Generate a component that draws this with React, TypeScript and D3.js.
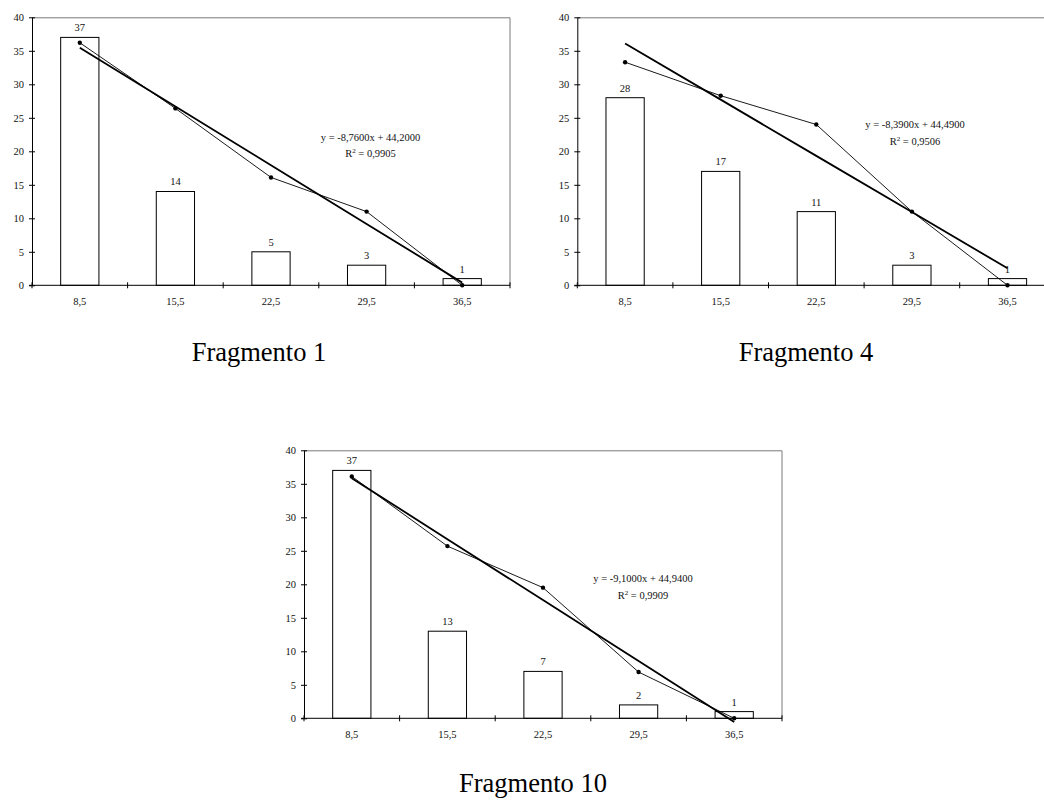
import React, { useRef, useEffect } from 'react';
import * as d3 from 'd3';

const categories = ['8,5', '15,5', '22,5', '29,5', '36,5'];
const yTicks = [0, 5, 10, 15, 20, 25, 30, 35, 40];

// Fragmento 1
const frag1Counts = [37, 14, 5, 3, 1];
const frag1Line = [36.2, 26.4, 16.1, 11.0, 0];
const frag1Fit = { slope: -8.76, intercept: 44.2, eq: 'y = -8,7600x + 44,2000', r2: '0,9905' };

// Fragmento 4
const frag4Counts = [28, 17, 11, 3, 1];
const frag4Line = [33.3, 28.3, 24.0, 11.0, 0];
const frag4Fit = { slope: -8.39, intercept: 44.49, eq: 'y = -8,3900x + 44,4900', r2: '0,9506' };

// Fragmento 10
const frag10Counts = [37, 13, 7, 2, 1];
const frag10Line = [36.1, 25.7, 19.5, 6.9, 0];
const frag10Fit = { slope: -9.1, intercept: 44.94, eq: 'y = -9,1000x + 44,9400', r2: '0,9909' };

const W = 1044;
const H = 800;
const PLOT_W = 478;
const PLOT_H = 268;
const FONT = "'Liberation Serif', 'Times New Roman', serif";

const charts = [
    { x0: 32, y0: 17.3, counts: frag1Counts, line: frag1Line, fit: frag1Fit, eqX: 338.5, eqY: 123.4, title: 'Fragmento 1', titleX: 259, titleY: 361 },
    { x0: 577.3, y0: 17.3, counts: frag4Counts, line: frag4Line, fit: frag4Fit, eqX: 337.7, eqY: 111, title: 'Fragmento 4', titleX: 806, titleY: 361 },
    { x0: 304, y0: 450.3, counts: frag10Counts, line: frag10Line, fit: frag10Fit, eqX: 339, eqY: 132, title: 'Fragmento 10', titleX: 533, titleY: 792 },
];

const drawChart = (svg, cfg) => {
    const g = svg.append('g').attr('transform', `translate(${cfg.x0},${cfg.y0})`);

    const x = d3.scaleBand().domain(categories).range([0, PLOT_W]);
    const y = d3.scaleLinear().domain([0, 40]).range([PLOT_H, 0]);
    const cx = (i) => x(categories[i]) + x.bandwidth() / 2;

    // top + right frame
    g.append('path')
        .attr('d', `M0,0.5H${PLOT_W}V${PLOT_H}`)
        .attr('fill', 'none')
        .attr('stroke', '#7a7a7a')
        .attr('stroke-width', 1);

    // bars
    const bw = x.bandwidth() * 0.4;
    g.selectAll('.bar')
        .data(cfg.counts)
        .enter()
        .append('rect')
        .attr('x', (d, i) => cx(i) - bw / 2)
        .attr('y', d => y(d))
        .attr('width', bw)
        .attr('height', d => PLOT_H - y(d))
        .attr('fill', '#fff')
        .attr('stroke', '#000')
        .attr('stroke-width', 1);

    g.selectAll('.bar-label')
        .data(cfg.counts)
        .enter()
        .append('text')
        .attr('x', (d, i) => cx(i))
        .attr('y', d => y(d) - 6)
        .attr('text-anchor', 'middle')
        .attr('font-family', FONT)
        .attr('font-size', 10.5)
        .attr('fill', '#111')
        .text(d => d);

    // y axis
    const yAxis = g.append('g')
        .call(d3.axisLeft(y).tickValues(yTicks).tickSize(3).tickSizeOuter(0).tickPadding(5));
    yAxis.select('.domain').attr('stroke', '#000');
    yAxis.selectAll('.tick line').attr('x1', 3).attr('stroke', '#000');
    yAxis.selectAll('text').attr('font-family', FONT).attr('font-size', 10.5).attr('fill', '#111');

    // x axis labels
    const xAxis = g.append('g')
        .attr('transform', `translate(0,${PLOT_H})`)
        .call(d3.axisBottom(x).tickSize(0).tickPadding(12));
    xAxis.select('.domain').remove();
    xAxis.selectAll('text').attr('font-family', FONT).attr('font-size', 10.5).attr('fill', '#111');

    // x axis line and boundary ticks
    g.append('line')
        .attr('x1', -3).attr('x2', PLOT_W)
        .attr('y1', PLOT_H).attr('y2', PLOT_H)
        .attr('stroke', '#000');
    const bounds = categories.map(c => x(c)).concat([PLOT_W]);
    g.selectAll('.xtick')
        .data(bounds)
        .enter()
        .append('line')
        .attr('x1', d => d).attr('x2', d => d)
        .attr('y1', PLOT_H - 3).attr('y2', PLOT_H + 3)
        .attr('stroke', '#000');

    // trend line from the fitted equation
    const fitVals = categories.map((c, i) => cfg.fit.slope * (i + 1) + cfg.fit.intercept);
    const line = d3.line().x((d, i) => cx(i)).y(d => y(d));
    g.append('path')
        .attr('d', line(fitVals))
        .attr('fill', 'none')
        .attr('stroke', '#000')
        .attr('stroke-width', 1.8);

    // data line with markers
    g.append('path')
        .attr('d', line(cfg.line))
        .attr('fill', 'none')
        .attr('stroke', '#000')
        .attr('stroke-width', 0.9);
    g.selectAll('.dot')
        .data(cfg.line)
        .enter()
        .append('circle')
        .attr('cx', (d, i) => cx(i))
        .attr('cy', d => y(d))
        .attr('r', 2.2)
        .attr('fill', '#000');

    // equation
    g.append('text')
        .attr('x', cfg.eqX)
        .attr('y', cfg.eqY)
        .attr('text-anchor', 'middle')
        .attr('font-family', FONT)
        .attr('font-size', 10.5)
        .attr('fill', '#111')
        .text(cfg.fit.eq);
    const r2 = g.append('text')
        .attr('x', cfg.eqX)
        .attr('y', cfg.eqY + 16.5)
        .attr('text-anchor', 'middle')
        .attr('font-family', FONT)
        .attr('font-size', 10.5)
        .attr('fill', '#111');
    r2.append('tspan').text('R');
    r2.append('tspan').attr('font-size', 7).attr('dy', -4).text('2');
    r2.append('tspan').attr('dy', 4).text(' = ' + cfg.fit.r2);

    // caption
    svg.append('text')
        .attr('x', cfg.titleX)
        .attr('y', cfg.titleY)
        .attr('text-anchor', 'middle')
        .attr('font-family', FONT)
        .attr('font-size', 26.5)
        .attr('fill', '#000')
        .text(cfg.title);
};

const App = () => {
    const ref = useRef(null);

    useEffect(() => {
        const svg = d3.select(ref.current);
        svg.selectAll('*').remove();
        svg.append('rect').attr('width', W).attr('height', H).attr('fill', '#fff');
        charts.forEach(c => drawChart(svg, c));
    }, []);

    return (
        <svg
            ref={ref}
            width={W}
            height={H}
            style={{ position: 'absolute', left: 0, top: 0, display: 'block' }}
        ></svg>
    );
};

export default App;
